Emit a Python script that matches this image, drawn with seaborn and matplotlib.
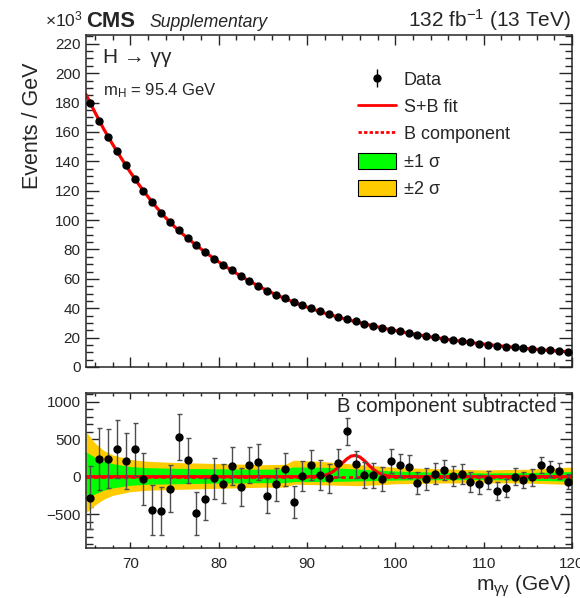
import numpy as np
import matplotlib
matplotlib.use("Agg")
import matplotlib.pyplot as plt
import seaborn as sns
from matplotlib.patches import Patch
from matplotlib.lines import Line2D
from matplotlib.ticker import MultipleLocator

# bin centres (1 GeV bins from 65 to 120 GeV)
mass = np.arange(65.5, 120.0, 1.0)

# events / GeV, in units of 10^3
events = [179.6, 167.7, 156.6, 146.8, 137.3, 128.2, 119.8, 112.1, 105.0, 98.4,
          93.2, 87.9, 82.9, 78.2, 73.8, 69.6, 65.7, 61.9, 58.4, 55.0,
          51.9, 49.3, 46.7, 44.2, 42.0, 39.9, 37.8, 35.9, 34.2, 33.0,
          31.0, 29.4, 28.0, 26.6, 25.5, 24.2, 23.1, 22.0, 21.0, 20.1,
          19.2, 18.3, 17.5, 16.7, 15.9, 15.2, 14.5, 13.9, 13.4, 12.8,
          12.2, 11.8, 11.3, 10.8, 10.4]

# statistical uncertainty per bin (events)
stat_err = [424, 410, 396, 383, 371, 358, 346, 335, 324, 314,
            305, 296, 288, 280, 272, 264, 256, 249, 242, 235,
            228, 222, 216, 210, 205, 200, 194, 189, 185, 182,
            176, 171, 167, 163, 160, 156, 152, 148, 145, 142,
            139, 135, 132, 129, 126, 123, 120, 118, 116, 113,
            110, 109, 106, 104, 102]

# data minus B component (events)
residual = [-278, 239, 240, 371, 208, 363, -30, -442, -455, -163,
            526, 217, -486, -300, -22, -93, 142, -137, 155, 195,
            -252, -101, 98, -340, 10, 158, 22, -22, 186, 606,
            164, 22, 18, -30, 208, 151, 133, -88, -30, 40,
            89, 14, 32, -70, -101, -44, -190, -155, 0, -44,
            -9, 155, 102, 75, -66]

# S+B fit at integer masses 65..120 (10^3 events)
fit_mass = np.arange(65, 121)
fit_sb = [185.5, 173.5, 162.0, 151.7, 142.0, 132.7, 124.0, 116.0, 108.5, 101.7,
          95.6, 90.2, 85.2, 80.4, 75.9, 71.6, 67.6, 63.8, 60.2, 56.8,
          53.6, 50.6, 47.9, 45.4, 43.0, 40.8, 38.7, 36.7, 34.9, 33.2,
          31.6, 30.1, 28.7, 27.3, 26.0, 24.8, 23.6, 22.5, 21.5, 20.5,
          19.6, 18.7, 17.9, 17.1, 16.3, 15.6, 14.9, 14.3, 13.7, 13.1,
          12.5, 12.0, 11.5, 11.0, 10.6, 10.2]

# signal component after B subtraction (events)
sig_mass = [65, 90, 90.5, 91, 91.5, 92, 92.5, 93, 93.5, 94, 94.5, 95, 95.5,
            96, 96.5, 97, 97.5, 98, 98.5, 99, 99.5, 100, 100.5, 101, 120]
sig_val = [0, 0.3, 0.9, 2.9, 7.6, 18.2, 38.6, 72.4, 120.8, 178.8, 235.1, 274.4, 284.3,
           261.6, 213.7, 155.0, 99.8, 57.1, 29.0, 13.1, 5.2, 1.9, 0.6, 0.2, 0]

# B-only fit uncertainty bands (events)
band_mass = [65, 66, 67, 68, 70, 72, 75, 80, 85, 87.5, 88.5, 92, 96, 100, 105, 110, 115, 120]
band_up1 = [330, 260, 210, 175, 135, 120, 112, 105, 100, 105, 130, 125, 100, 75, 60, 50, 55, 70]
band_lo1 = [-300, -230, -180, -150, -115, -100, -95, -85, -80, -80, -65, -65, -55, -45, -40, -40, -45, -60]
band_up2 = [600, 450, 350, 290, 230, 205, 190, 175, 160, 165, 220, 200, 160, 125, 105, 90, 100, 130]
band_lo2 = [-480, -380, -300, -250, -200, -180, -170, -155, -140, -140, -100, -110, -120, -95, -85, -80, -85, -105]

sns.set_theme(style="ticks")
plt.rcParams['font.family'] = ['Liberation Sans', 'DejaVu Sans']
plt.rcParams['mathtext.fontset'] = 'custom'
plt.rcParams['mathtext.rm'] = 'Liberation Sans'
plt.rcParams['mathtext.it'] = 'Liberation Sans:italic'
plt.rcParams['mathtext.bf'] = 'Liberation Sans:bold'
plt.rcParams['axes.linewidth'] = 1.1

green = '#00FF00'
yellow = '#FFCC00'

fig = plt.figure(figsize=(5.8, 5.98), dpi=100)
ax1 = fig.add_axes([0.1483, 0.3863, 0.8379, 0.5552])
ax2 = fig.add_axes([0.1483, 0.0831, 0.8379, 0.2602])

# upper panel
sns.lineplot(x=fit_mass, y=fit_sb, color='red', lw=2.3, ax=ax1, zorder=2)
data_h = ax1.errorbar(mass, events, yerr=np.array(stat_err) / 1000, fmt='o',
                      color='black', ms=5, lw=1, capsize=0, zorder=3)
ax1.set_xlim(65, 120)
ax1.set_ylim(0, 226)
ax1.yaxis.set_major_locator(MultipleLocator(20))
ax1.yaxis.set_minor_locator(MultipleLocator(5))
ax1.xaxis.set_major_locator(MultipleLocator(10))
ax1.xaxis.set_minor_locator(MultipleLocator(2))
ax1.tick_params(axis='x', which='both', labelbottom=False)
ax1.tick_params(axis='x', which='major', length=7, direction='in', top=True, width=1)
ax1.tick_params(axis='x', which='minor', length=3.6, direction='in', top=True, width=1)
ax1.tick_params(axis='y', which='major', length=9.4, direction='in', right=True, width=1,
                labelsize=11, pad=4)
ax1.tick_params(axis='y', which='minor', length=5, direction='in', right=True, width=1)
ax1.set_xlabel('')
ax1.set_ylabel('Events / GeV', fontsize=15.5)
ax1.yaxis.set_label_coords(-0.088, 0.726)

ax1.text(103 / 580, 1 - 63 / 598, 'H → γγ', transform=fig.transFigure,
         fontsize=15, ha='left', va='baseline')
ax1.text(103 / 580, 1 - 95 / 598, r'$\mathregular{m_{H}}$ = 95.4 GeV',
         transform=fig.transFigure, fontsize=12, ha='left', va='baseline')

handles = [data_h,
           Line2D([], [], color='red', lw=2),
           Line2D([], [], color='red', lw=2, ls=(0, (1.2, 0.8))),
           Patch(facecolor=green, edgecolor='black', lw=0.8),
           Patch(facecolor=yellow, edgecolor='black', lw=0.8)]
labels = ['Data', 'S+B fit', 'B component', '±1 σ', '±2 σ']
ax1.legend(handles, labels, loc='upper left', bbox_to_anchor=(345 / 580, 1 - 58 / 598),
           bbox_transform=fig.transFigure, frameon=False, fontsize=13,
           handlelength=2.1, handleheight=1.0, handletextpad=0.45,
           labelspacing=0.5, borderpad=0.2)

# lower panel
ax2.fill_between(band_mass, band_lo2, band_up2, color=yellow, lw=0, zorder=1)
ax2.fill_between(band_mass, band_lo1, band_up1, color=green, lw=0, zorder=1.5)
ax2.axhline(0, color='red', lw=2, ls=(0, (1.5, 1.2)), zorder=2)
sns.lineplot(x=sig_mass, y=sig_val, color='red', lw=2.3, ax=ax2, zorder=2.5)
ax2.errorbar(mass, residual, yerr=stat_err, fmt='o', color='black', ecolor='0.3',
             ms=5, lw=1, capsize=1.8, capthick=1, zorder=3)
ax2.set_xlim(65, 120)
ax2.set_ylim(-955, 1120)
ax2.yaxis.set_major_locator(MultipleLocator(500))
ax2.yaxis.set_minor_locator(MultipleLocator(100))
ax2.xaxis.set_major_locator(MultipleLocator(10))
ax2.xaxis.set_minor_locator(MultipleLocator(2))
ax2.tick_params(axis='x', which='major', length=4.3, direction='in', top=True, width=1,
                labelsize=11, pad=6)
ax2.tick_params(axis='x', which='minor', length=2.2, direction='in', top=True, width=1)
ax2.tick_params(axis='y', which='major', length=9, direction='in', right=True, width=1,
                labelsize=11, pad=4)
ax2.tick_params(axis='y', which='minor', length=5, direction='in', right=True, width=1)
ax2.set_ylabel('')
ax2.set_xlabel(r'$\mathregular{m_{γγ}}$ (GeV)', fontsize=15, loc='right')
ax2.xaxis.set_label_coords(0.997, -0.165)
ax2.text(557 / 580, 1 - 412 / 598, 'B component subtracted', transform=fig.transFigure,
         fontsize=14.6, ha='right', va='baseline')

# header
fig.text(83 / 580, 1 - 26.7 / 598, r'$\times$10$^{3}$', fontsize=12.5, ha='right', va='baseline')
fig.text(86 / 580, 1 - 26.7 / 598, 'CMS', fontsize=15.8, weight='bold', ha='left', va='baseline')
fig.text(150 / 580, 1 - 26.7 / 598, 'Supplementary', fontsize=12.7, style='italic',
         ha='left', va='baseline')
fig.text(571 / 580, 1 - 26.7 / 598, r'132 fb$^{-1}$ (13 TeV)', fontsize=15,
         ha='right', va='baseline')

fig.savefig('out.png', dpi=100)
